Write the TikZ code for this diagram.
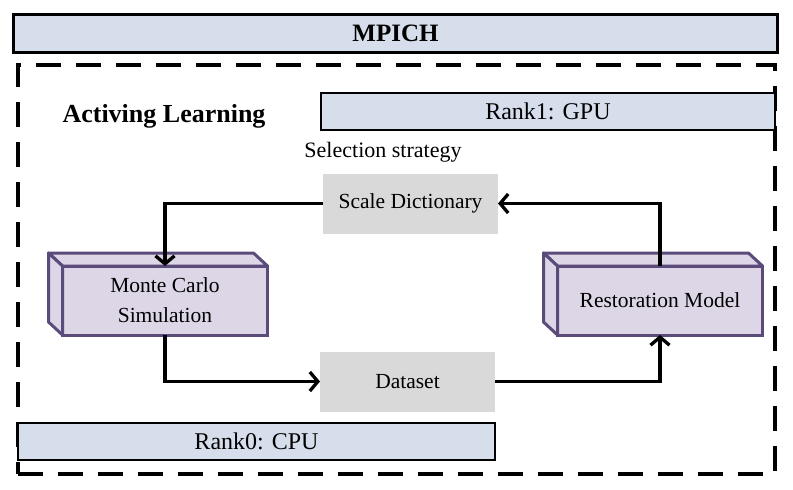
\documentclass[tikz,border=0pt]{standalone}
\usepackage{fontspec}
\setmainfont{Liberation Serif}
\usetikzlibrary{arrows.meta,calc}
\definecolor{barblue}{HTML}{D5DEEA}
\definecolor{cubefill}{HTML}{DCD6E6}
\definecolor{cubeline}{HTML}{5B4B7B}
\definecolor{boxgray}{HTML}{D9D9D9}
\begin{document}
\begin{tikzpicture}[x=1pt,y=-1pt,
  bar/.style={draw=black,line width=2.4pt,fill=barblue,inner sep=0pt,outer sep=0pt,font=\fontsize{24}{28}\selectfont},
  graybox/.style={fill=boxgray,inner sep=0pt,outer sep=0pt,minimum width=175pt,minimum height=60pt,font=\fontsize{21.5}{26}\selectfont},
  cubefront/.style={draw=cubeline,line width=3pt,fill=cubefill,inner sep=0pt,outer sep=0pt,minimum width=205pt,minimum height=69pt,align=center,font=\fontsize{21.5}{30}\selectfont},
  cubeside/.style={draw=cubeline,line width=3pt,fill=cubefill,line join=round},
  conn/.style={line width=3.3pt,-{Straight Barb[length=8pt,width=19pt]}},
  frame/.style={draw=black,line width=3.3pt,dash pattern=on 25pt off 15pt,inner sep=0pt,outer sep=0pt}
]
\useasboundingbox (0,0) rectangle (793,490);
% MPICH bar
\node[bar,minimum width=764pt,minimum height=38pt,font=\fontsize{25}{28}\selectfont\bfseries] (mpich) at (395.5,33.5) {MPICH};
% dashed frame
\node[frame,minimum width=757pt,minimum height=409pt] (frame) at (396.5,269.5) {};
% title
\node[font=\fontsize{26}{30}\selectfont\bfseries,inner sep=0pt] (al) at (164,116) {Activing Learning};
% Rank bars
\node[bar,minimum width=454pt,minimum height=37pt] (rank1) at (548,111.5) {Rank1: GPU};
\node[bar,minimum width=477pt,minimum height=37pt] (rank0) at (256.5,441.5) {Rank0: CPU};
% selection strategy
\node[font=\fontsize{22}{26}\selectfont,inner sep=0pt] (sel) at (383,152) {Selection strategy};
% gray boxes
\node[graybox] (sd) at (410.5,203.5) {Scale Dictionary};
\node[graybox] (ds) at (407.5,381.5) {Dataset};
% cubes
\def\cubedx{-14}\def\cubedy{-13}
\node[cubefront] (mc) at (165,300.5) {Monte Carlo\\Simulation};
\node[cubefront] (rm) at (660,300.5) {Restoration Model};
\foreach \c in {mc,rm}{
  \draw[cubeside] (\c.north west) -- ++(\cubedx,\cubedy) -- ($(\c.north east)+(\cubedx,\cubedy)$) -- (\c.north east) -- cycle;
  \draw[cubeside] (\c.north west) -- ++(\cubedx,\cubedy) -- ($(\c.south west)+(\cubedx,\cubedy)$) -- (\c.south west) -- cycle;
}
% connectors
\draw[conn] (sd.west) -| (mc.north);
\draw[conn] (mc.south) |- (ds.west);
\draw[conn] (ds.east) -| (rm.south);
\draw[conn] (rm.north) |- (sd.east);
\end{tikzpicture}
\end{document}
